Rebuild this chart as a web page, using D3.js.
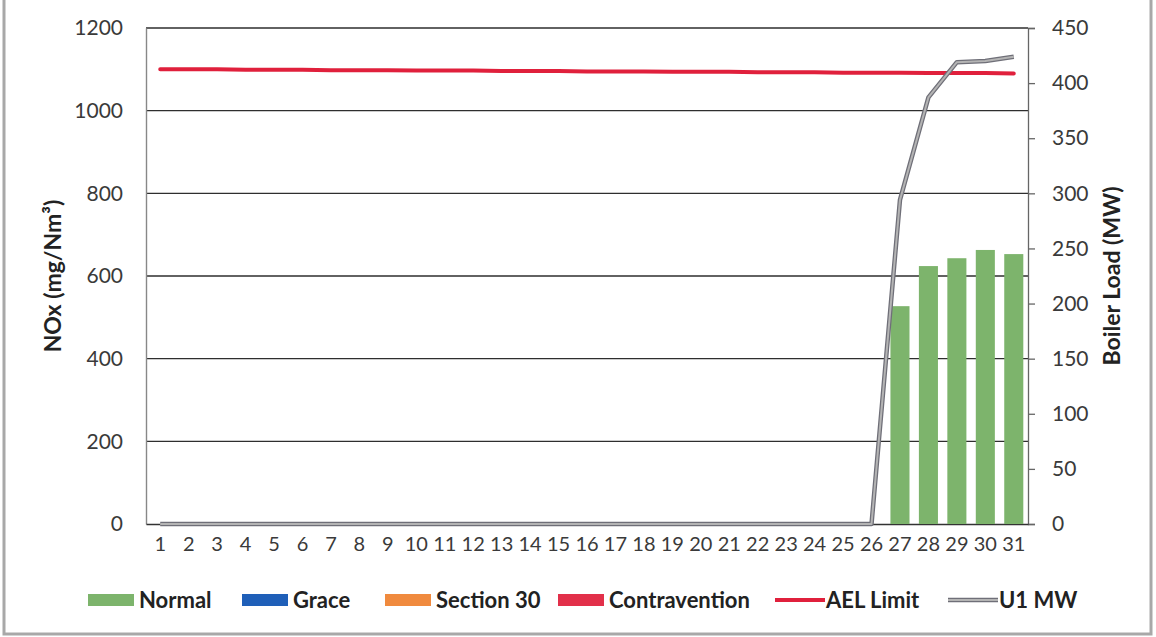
<!DOCTYPE html>
<html><head><meta charset="utf-8">
<script src="https://cdn.jsdelivr.net/npm/d3@7/dist/d3.min.js"></script>
<style>
html,body{margin:0;padding:0;background:#fff;}
svg{display:block;font-family:Lato,"Open Sans",sans-serif;}
</style></head>
<body>
<svg id="chart" width="1156" height="637"></svg>
<script>
const days = d3.range(1, 32).map(String);
const normal = [0,0,0,0,0,0,0,0,0,0,0,0,0,0,0,0,0,0,0,0,0,0,0,0,0,0,527,624,643,663,653];
const grace = new Array(31).fill(0);
const section30 = new Array(31).fill(0);
const contravention = new Array(31).fill(0);
const aelLimit = [1100,1100,1100,1099,1099,1099,1098,1098,1098,1097,1097,1097,1096,1096,1096,1095,1095,1095,1094,1094,1094,1093,1093,1093,1092,1092,1092,1091,1091,1091,1090];
const u1MW = [0,0,0,0,0,0,0,0,0,0,0,0,0,0,0,0,0,0,0,0,0,0,0,0,0,0,294,387,419,420,424];
const leftTicks = [0,200,400,600,800,1000,1200];
const rightTicks = [0,50,100,150,200,250,300,350,400,450];
const legendItems = [
  {name:"Normal", type:"bar", color:"#7db46c"},
  {name:"Grace", type:"bar", color:"#1f5fb8"},
  {name:"Section 30", type:"bar", color:"#f08a3e"},
  {name:"Contravention", type:"bar", color:"#e2304a"},
  {name:"AEL Limit", type:"line", color:"#e0203c"},
  {name:"U1 MW", type:"mw", color:"#9a9a9a"}
];

const svg = d3.select("#chart");
const L = 146, R = 1028, T = 28, B = 524;

const x = d3.scaleBand().domain(days).range([L, R]).paddingInner(0.33).paddingOuter(0.165);
const yL = d3.scaleLinear().domain([0, 1200]).range([B, T]);
const yR = d3.scaleLinear().domain([0, 450]).range([B, T]);
const cx = d => x(d) + x.bandwidth() / 2;

// outer border (scanned frame)
svg.append("rect").attr("x", 4).attr("y", -6).attr("width", 1147).attr("height", 640)
  .attr("fill", "none").attr("stroke", "#a8a8a8").attr("stroke-width", 3);

// gridlines
svg.append("g").selectAll("line").data(leftTicks.filter(t => t > 0)).join("line")
  .attr("x1", L).attr("x2", R).attr("y1", d => yL(d)).attr("y2", d => yL(d))
  .attr("stroke", "#2e2e2e").attr("stroke-width", 1.4);

// left axis
const gL = svg.append("g").attr("transform", `translate(${L},0)`)
  .call(d3.axisLeft(yL).tickValues(leftTicks).tickFormat(d3.format("d")).tickSize(0).tickPadding(23));
gL.select(".domain").attr("stroke", "#888").attr("stroke-width", 1.4);
gL.selectAll("text").attr("font-family", "Lato, sans-serif").attr("font-size", 21).attr("fill", "#3a3a3a");

// right axis
const gR = svg.append("g").attr("transform", `translate(${R},0)`)
  .call(d3.axisRight(yR).tickValues(rightTicks).tickSize(7).tickPadding(17));
gR.select(".domain").attr("stroke", "#666").attr("stroke-width", 1.3);
gR.selectAll(".tick line").attr("stroke", "#666").attr("stroke-width", 1.3);
gR.selectAll("text").attr("font-family", "Lato, sans-serif").attr("font-size", 21).attr("fill", "#3a3a3a");

// bottom axis
const gB = svg.append("g").attr("transform", `translate(0,${B})`)
  .call(d3.axisBottom(x).tickSize(0).tickPadding(13));
gB.select(".domain").attr("stroke", "#333").attr("stroke-width", 1.5);
gB.selectAll("text").attr("font-family", "Lato, sans-serif").attr("font-size", 20).attr("fill", "#3a3a3a");

// bars (stacked, only Normal non-zero)
const barG = svg.append("g");
const stackSeries = [normal, grace, section30, contravention];
days.forEach((d, i) => {
  let base = 0;
  stackSeries.forEach((s, k) => {
    const v = s[i];
    if (v > 0) {
      barG.append("rect")
        .attr("x", x(d)).attr("width", x.bandwidth())
        .attr("y", yL(base + v)).attr("height", yL(base) - yL(base + v))
        .attr("fill", legendItems[k].color);
      base += v;
    }
  });
});

// AEL limit line
svg.append("path").datum(aelLimit)
  .attr("d", d3.line().x((v, i) => cx(days[i])).y(v => yL(v)))
  .attr("fill", "none").attr("stroke", "#e0203c").attr("stroke-width", 4).attr("stroke-linecap", "round");

// U1 MW line (outlined grey)
const mwLine = d3.line().x((v, i) => cx(days[i])).y(v => yR(v));
svg.append("path").datum(u1MW).attr("d", mwLine)
  .attr("fill", "none").attr("stroke", "#6f6f78").attr("stroke-width", 4.5).attr("stroke-linejoin", "round");
svg.append("path").datum(u1MW).attr("d", mwLine)
  .attr("fill", "none").attr("stroke", "#b4b4b4").attr("stroke-width", 2).attr("stroke-linejoin", "round");

// axis titles
svg.append("text").attr("transform", `translate(53,${(T + B) / 2}) rotate(-90)`)
  .attr("text-anchor", "middle").attr("dy", "0.35em").attr("font-family", "Lato, sans-serif").attr("font-weight", "bold")
  .attr("font-size", 23).attr("fill", "#222").text("NOx (mg/Nm³)");
svg.append("text").attr("transform", `translate(1112,${(T + B) / 2}) rotate(-90)`)
  .attr("text-anchor", "middle").attr("dy", "0.35em").attr("font-family", "Lato, sans-serif").attr("font-weight", "bold")
  .attr("font-size", 23).attr("fill", "#222").text("Boiler Load (MW)");

// legend
const legendX = [88, 242, 385, 558, 775, 948];
const ly = 600;
const lg = svg.append("g");
legendItems.forEach((it, i) => {
  const g = lg.append("g").attr("transform", `translate(${legendX[i]},${ly})`);
  if (it.type === "bar") {
    g.append("rect").attr("x", 0).attr("y", -6).attr("width", 46).attr("height", 12).attr("fill", it.color);
    g.append("text").attr("x", 51).attr("y", 0).attr("dy", "0.35em");
  } else if (it.type === "line") {
    g.append("line").attr("x1", 0).attr("x2", 50).attr("y1", 0).attr("y2", 0)
      .attr("stroke", it.color).attr("stroke-width", 4);
    g.append("text").attr("x", 51).attr("y", 0).attr("dy", "0.35em");
  } else {
    g.append("line").attr("x1", 0).attr("x2", 50).attr("y1", 0).attr("y2", 0)
      .attr("stroke", "#6f6f78").attr("stroke-width", 4.5);
    g.append("line").attr("x1", 0).attr("x2", 50).attr("y1", 0).attr("y2", 0)
      .attr("stroke", "#b4b4b4").attr("stroke-width", 2);
    g.append("text").attr("x", 51).attr("y", 0).attr("dy", "0.35em");
  }
  g.select("text").attr("font-family", "Lato, sans-serif").attr("font-weight", "bold")
    .attr("font-size", 22).attr("fill", "#222").text(it.name);
});
</script>
</body></html>
